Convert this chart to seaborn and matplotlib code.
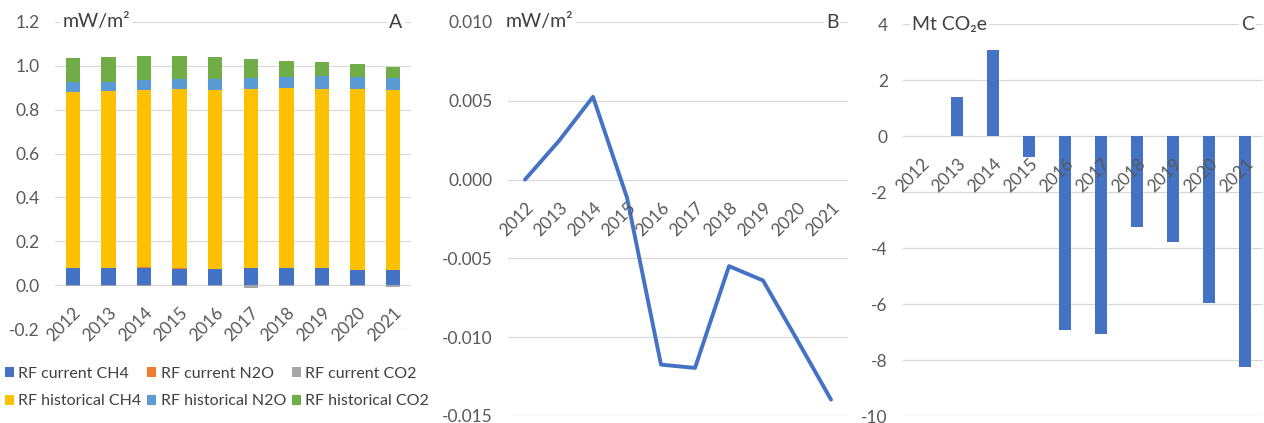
"""
plot.py

Radiative forcing (A), its yearly change (B) and the
matching emission change (C), 2012-2021.
"""

import matplotlib
matplotlib.use("Agg")

import matplotlib.pyplot as plt
import numpy as np
import seaborn as sns
from matplotlib.patches import Patch


# ==========================================================
# Data
# ==========================================================

years = ["2012", "2013", "2014", "2015", "2016",
         "2017", "2018", "2019", "2020", "2021"]

# Panel A - radiative forcing components (mW/m2)
rf_current_ch4 = [0.076, 0.078, 0.080, 0.075, 0.072,
                  0.078, 0.078, 0.078, 0.070, 0.067]
rf_current_n2o = [0.001, 0.001, 0.001, 0.001, 0.001,
                  0.001, 0.001, 0.001, 0.001, 0.001]
rf_current_co2 = [-0.003, -0.002, -0.002, -0.003, -0.006,
                  -0.012, -0.006, -0.006, -0.005, -0.008]
rf_historical_ch4 = [0.804, 0.808, 0.809, 0.818, 0.817,
                     0.814, 0.818, 0.817, 0.822, 0.822]
rf_historical_n2o = [0.044, 0.041, 0.045, 0.046, 0.050,
                     0.050, 0.051, 0.058, 0.055, 0.053]
rf_historical_co2 = [0.111, 0.112, 0.110, 0.105, 0.100,
                     0.088, 0.076, 0.062, 0.059, 0.052]

# Panel B - change in radiative forcing (mW/m2)
rf_change = [0.0000, 0.00246, 0.00525, -0.00114, -0.01174,
             -0.01195, -0.00549, -0.00640, -0.01015, -0.01396]

# Panel C - emission change (Mt CO2e)
emission_change = [0.0, 1.39, 3.07, -0.75, -6.93,
                   -7.08, -3.26, -3.79, -5.97, -8.25]

ticks_a = [-0.2, 0.0, 0.2, 0.4, 0.6, 0.8, 1.0, 1.2]
ticks_b = [-0.015, -0.010, -0.005, 0.000, 0.005, 0.010]
ticks_c = [-10, -8, -6, -4, -2, 0, 2, 4]


# ==========================================================
# Style
# ==========================================================

BLUE = "#4472C4"
ORANGE = "#ED7D31"
GRAY = "#A5A5A5"
GOLD = "#FFC000"
LIGHT_BLUE = "#5B9BD5"
GREEN = "#70AD47"
TEXT = "#595959"
DARK_TEXT = "#404040"
GRID = "#D9D9D9"
FONT_SIZE = 12.5
CORNER_SIZE = 14

sns.set_theme(style="white")
plt.rcParams["font.family"] = ["Lato", "DejaVu Sans"]


def style_axes(ax, ticks, fmt):
    """
    Excel-like look: light y grid, no spines, x labels on zero line.
    """

    ax.set_ylim(ticks[0], ticks[-1])
    ax.set_yticks(ticks)
    ax.set_yticklabels([fmt.format(t) for t in ticks])

    ax.grid(axis="y", color=GRID, linewidth=0.9)
    ax.set_axisbelow(True)
    ax.xaxis.set_zorder(3)

    for side in ax.spines:
        ax.spines[side].set_visible(False)
    ax.spines["bottom"].set_position(("data", 0))

    ax.tick_params(axis="both", length=0, labelcolor=TEXT,
                   labelsize=FONT_SIZE)
    ax.tick_params(axis="y", pad=11)
    ax.tick_params(axis="x", pad=14)

    for label in ax.get_xticklabels():
        label.set_rotation(45)
        label.set_ha("right")
        label.set_va("top")
        label.set_rotation_mode("anchor")

    ax.set_xlabel("")
    ax.set_ylabel("")


def corner_labels(ax, unit, x_unit, letter, x_letter):
    box = dict(facecolor="white", edgecolor="none", pad=1.5)
    ax.text(x_unit, 1.0, unit, transform=ax.transAxes, ha="left",
            va="center", fontsize=CORNER_SIZE, color=DARK_TEXT, bbox=box)
    ax.text(x_letter, 1.0, letter, transform=ax.transAxes, ha="center",
            va="center", fontsize=CORNER_SIZE, color=DARK_TEXT, bbox=box)


fig = plt.figure(figsize=(12.64, 4.23), dpi=100)

ax_a = fig.add_axes([55 / 1264, 1 - 329 / 423, 356 / 1264, 307 / 423])
ax_b = fig.add_axes([508 / 1264, 1 - 416 / 423, 340 / 1264, 394 / 423])
ax_c = fig.add_axes([903 / 1264, 1 - 416 / 423, 360 / 1264, 392 / 423])


# ==========================================================
# Panel A - stacked bars (drawn tallest first)
# ==========================================================

positive_layers = [
    (rf_current_ch4, BLUE),
    (rf_current_n2o, ORANGE),
    (rf_historical_ch4, GOLD),
    (rf_historical_n2o, LIGHT_BLUE),
    (rf_historical_co2, GREEN),
]

tops = np.cumsum([np.array(layer) for layer, _ in positive_layers], axis=0)

for top, (_, color) in reversed(list(zip(tops, positive_layers))):
    sns.barplot(x=years, y=top, color=color, saturation=1, width=0.4,
                errorbar=None, linewidth=0, ax=ax_a)

sns.barplot(x=years, y=rf_current_co2, color=GRAY, saturation=1,
            width=0.4, errorbar=None, linewidth=0, ax=ax_a)

ax_a.set_xlim(-0.5, 9.5)
style_axes(ax_a, ticks_a, "{:.1f}")
corner_labels(ax_a, "mW/m²", 0.022, "A", 0.958)


# ==========================================================
# Panel B - line
# ==========================================================

year_numbers = [int(y) for y in years]

sns.lineplot(x=year_numbers, y=rf_change, color=BLUE, linewidth=2.8,
             ax=ax_b)

ax_b.set_xlim(2011.5, 2021.5)
ax_b.set_xticks(year_numbers)
ax_b.set_xticklabels(years)
style_axes(ax_b, ticks_b, "{:.3f}")
corner_labels(ax_b, "mW/m²", -0.006, "B", 0.953)


# ==========================================================
# Panel C - bars
# ==========================================================

sns.barplot(x=years, y=emission_change, color=BLUE, saturation=1,
            width=0.32, errorbar=None, linewidth=0, ax=ax_c)

ax_c.set_xlim(-0.5, 9.5)
style_axes(ax_c, ticks_c, "{:d}")
corner_labels(ax_c, "Mt CO₂e", 0.025, "C", 0.958)


# ==========================================================
# Legend
# ==========================================================

# matplotlib fills legend columns first, so interleave the two rows
legend_items = [
    ("RF current CH4", BLUE),
    ("RF historical CH4", GOLD),
    ("RF current N2O", ORANGE),
    ("RF historical N2O", LIGHT_BLUE),
    ("RF current CO2", GRAY),
    ("RF historical CO2", GREEN),
]

handles = [Patch(facecolor=c, edgecolor="none", label=l)
           for l, c in legend_items]

fig.legend(
    handles=handles,
    loc="upper left",
    bbox_to_anchor=(0.0, 1 - 362 / 423),
    ncol=3,
    frameon=False,
    fontsize=11.5,
    labelcolor=DARK_TEXT,
    handlelength=0.55,
    handleheight=0.55,
    handletextpad=0.3,
    columnspacing=0.35,
    labelspacing=0.85,
    borderaxespad=0,
    borderpad=0.3,
)

fig.savefig("out.png", dpi=100)
plt.close(fig)
